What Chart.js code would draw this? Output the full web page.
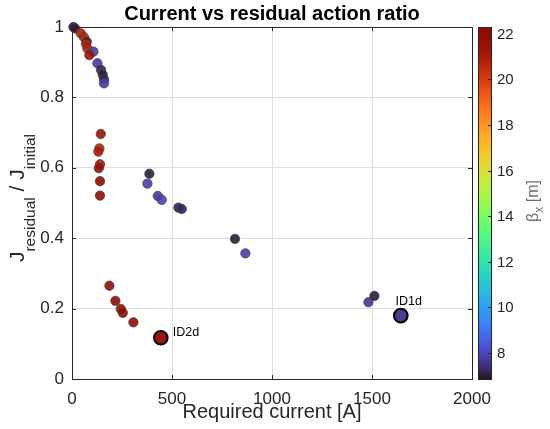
<!DOCTYPE html>
<html>
<head>
<meta charset="utf-8">
<script src="https://cdn.jsdelivr.net/npm/chart.js@4.4.1/dist/chart.umd.min.js"></script>
<style>
    html, body { margin: 0; padding: 0; background: #fff; }
</style>
</head>
<body>
<canvas id="chart" width="550" height="429"></canvas>
<script>
// measured points: required current [A], J_residual / J_initial, beta_x [m]
const current = [7, 15, 44, 60, 74, 70, 77, 107, 87, 127, 145, 154, 160, 160,
    144, 137, 132, 140, 134, 140, 140,
    387, 377, 429, 449, 532, 549, 815, 867, 1482, 1512,
    187, 217, 244, 254, 307];
const ratio = [1.000, 0.996, 0.982, 0.971, 0.958, 0.952, 0.939, 0.930, 0.920, 0.897, 0.878, 0.864, 0.851, 0.840,
    0.696, 0.655, 0.646, 0.610, 0.599, 0.562, 0.521,
    0.583, 0.555, 0.520, 0.509, 0.487, 0.483, 0.398, 0.357, 0.218, 0.236,
    0.265, 0.222, 0.199, 0.188, 0.161];
const beta = [7.0, 7.0, 20.8, 20.6, 7.1, 20.7, 20.9, 7.8, 21.3, 7.7, 7.1, 7.0, 7.2, 7.8,
    21.3, 20.6, 20.9, 21.0, 21.6, 21.9, 21.9,
    7.0, 7.8, 7.7, 7.9, 7.1, 7.2, 7.0, 7.8, 7.6, 7.0,
    21.8, 21.8, 21.7, 21.8, 21.9];

// highlighted cases
const markedCurrent = [444, 1644];
const markedRatio = [0.117, 0.180];
const markedBeta = [22.0, 7.5];
const markedLabels = ['ID2d', 'ID1d'];

const xTicks = [0, 500, 1000, 1500, 2000];
const yTicks = [0, 0.2, 0.4, 0.6, 0.8, 1];
const cbarTicks = [8, 10, 12, 14, 16, 18, 20, 22];
const cbarRange = [6.85, 22.3];

const FONT = '"Liberation Sans", Arial, Helvetica, sans-serif';
const INK = '#262626';

// turbo colormap (polynomial fit)
function turbo(t, alpha = 1) {
    t = Math.min(1, Math.max(0, t));
    const r = 0.13572138 + t * (4.61539260 + t * (-42.66032258 + t * (132.13108234 + t * (-152.94239396 + t * 59.28637943))));
    const g = 0.09140261 + t * (2.19418839 + t * (4.84296658 + t * (-14.18503333 + t * (4.27729857 + t * 2.82956604))));
    const b = 0.10667330 + t * (12.64194608 + t * (-60.58204836 + t * (110.36276771 + t * (-89.90310912 + t * 27.34824973))));
    const c = (v) => Math.round(Math.min(1, Math.max(0, v)) * 255);
    return `rgba(${c(r)},${c(g)},${c(b)},${alpha})`;
}
const colorFor = (v, a) => turbo((v - cbarRange[0]) / (cbarRange[1] - cbarRange[0]), a);

// rotated text made of pieces (for subscripts)
function drawPieces(ctx, pieces, x, y) {
    ctx.save();
    ctx.translate(x, y);
    ctx.rotate(-Math.PI / 2);
    let total = 0;
    pieces.forEach((p) => { ctx.font = `${p.size}px ${FONT}`; p.w = ctx.measureText(p.t).width; total += p.w; });
    let cx = -total / 2;
    ctx.textBaseline = 'alphabetic';
    ctx.textAlign = 'left';
    pieces.forEach((p) => {
        ctx.font = `${p.size}px ${FONT}`;
        ctx.fillStyle = p.color;
        ctx.fillText(p.t, cx, p.dy || 0);
        cx += p.w;
    });
    ctx.restore();
}

const decor = {
    id: 'decor',
    beforeDatasetsDraw(chart) {
        const { ctx, chartArea: a, scales: { x, y } } = chart;
        ctx.save();
        ctx.strokeStyle = INK;
        ctx.lineWidth = 1;
        ctx.beginPath();
        ctx.moveTo(a.left, a.top + 0.5); ctx.lineTo(a.right + 0.5, a.top + 0.5);
        ctx.lineTo(a.right + 0.5, a.bottom);
        const tl = 4;
        xTicks.slice(1, -1).forEach((v) => {
            const px = Math.round(x.getPixelForValue(v)) + 0.5;
            ctx.moveTo(px, a.bottom); ctx.lineTo(px, a.bottom - tl);
            ctx.moveTo(px, a.top); ctx.lineTo(px, a.top + tl);
        });
        yTicks.slice(1, -1).forEach((v) => {
            const py = Math.round(y.getPixelForValue(v)) + 0.5;
            ctx.moveTo(a.left, py); ctx.lineTo(a.left + tl, py);
            ctx.moveTo(a.right, py); ctx.lineTo(a.right - tl, py);
        });
        ctx.stroke();
        ctx.restore();
    },
    afterDatasetsDraw(chart) {
        const { ctx, scales: { x, y } } = chart;
        ctx.save();
        ctx.font = `12.5px ${FONT}`;
        ctx.fillStyle = '#000';
        ctx.textBaseline = 'middle';
        // ID2d to the right, ID1d above
        const px0 = x.getPixelForValue(markedCurrent[0]);
        const py0 = y.getPixelForValue(markedRatio[0]);
        ctx.textAlign = 'left';
        ctx.fillText(markedLabels[0], px0 + 12, py0 - 5);
        const px1 = x.getPixelForValue(markedCurrent[1]);
        const py1 = y.getPixelForValue(markedRatio[1]);
        ctx.textAlign = 'center';
        ctx.fillText(markedLabels[1], px1 + 8, py1 - 14);
        ctx.restore();
    },
    afterDraw(chart) {
        const { ctx, chartArea: a } = chart;
        // title centred over the axes
        ctx.save();
        ctx.font = `bold 20px ${FONT}`;
        ctx.fillStyle = '#000';
        ctx.textAlign = 'center';
        ctx.textBaseline = 'middle';
        ctx.fillText('Current vs residual action ratio', (a.left + a.right) / 2, 14);
        ctx.restore();

        // y-axis title with subscripts
        drawPieces(ctx, [
            { t: 'J', size: 21, color: INK },
            { t: 'residual', size: 15.5, dy: 11, color: INK },
            { t: ' / J', size: 21, color: INK },
            { t: 'initial', size: 15.5, dy: 11, color: INK },
        ], 24, 198);

        // colorbar
        const cx = 478, cw = 13;
        const top = a.top, bot = a.bottom;
        const grad = ctx.createLinearGradient(0, bot, 0, top);
        for (let i = 0; i <= 32; i++) grad.addColorStop(i / 32, turbo(i / 32));
        ctx.save();
        ctx.fillStyle = grad;
        ctx.fillRect(cx, top, cw, bot - top);
        ctx.strokeStyle = INK;
        ctx.lineWidth = 1;
        ctx.strokeRect(cx + 0.5, top + 0.5, cw, bot - top);
        ctx.font = `15px ${FONT}`;
        ctx.fillStyle = INK;
        ctx.textAlign = 'left';
        ctx.textBaseline = 'middle';
        ctx.beginPath();
        cbarTicks.forEach((v) => {
            const py = Math.round(bot - (v - cbarRange[0]) / (cbarRange[1] - cbarRange[0]) * (bot - top)) + 0.5;
            ctx.moveTo(cx + cw, py); ctx.lineTo(cx + cw - 3, py);
            ctx.fillText(String(v), cx + cw + 6, py);
        });
        ctx.stroke();
        ctx.restore();

        drawPieces(ctx, [
            { t: 'β', size: 16, color: '#6e6e6e' },
            { t: 'x', size: 12, dy: 5, color: '#6e6e6e' },
            { t: ' [m]', size: 16, color: '#6e6e6e' },
        ], 538, 201);
    },
};

new Chart(document.getElementById('chart'), {
    type: 'scatter',
    data: {
        datasets: [
            {
                data: current.map((c, i) => ({ x: c, y: ratio[i] })),
                clip: false,
                pointRadius: 4.7,
                pointHoverRadius: 4.7,
                pointBackgroundColor: beta.map((b) => colorFor(b, 0.9)),
                pointBorderColor: 'rgba(60,60,60,0.85)',
                pointBorderWidth: 0.8,
            },
            {
                data: markedCurrent.map((c, i) => ({ x: c, y: markedRatio[i] })),
                clip: false,
                pointRadius: 6.8,
                pointHoverRadius: 6.8,
                pointBackgroundColor: markedBeta.map((b) => colorFor(b, 0.95)),
                pointBorderColor: '#000',
                pointBorderWidth: 2,
            },
        ],
    },
    options: {
        responsive: false,
        animation: false,
        devicePixelRatio: 1,
        layout: { padding: { left: 0, right: 78, top: 27, bottom: 0 } },
        plugins: {
            legend: { display: false },
            tooltip: { enabled: false },
            title: { display: false },
        },
        scales: {
            x: {
                type: 'linear',
                min: 0,
                max: 2000,
                afterBuildTicks: (s) => { s.ticks = xTicks.map((v) => ({ value: v })); },
                afterFit: (s) => { s.height = 50; },
                ticks: {
                    color: INK,
                    padding: 10,
                    maxRotation: 0,
                    font: { family: FONT, size: 17 },
                    callback: (v) => String(v),
                },
                grid: { color: '#e0e0e0', drawTicks: false },
                border: { color: INK, width: 1 },
                title: {
                    display: true,
                    text: 'Required current [A]',
                    color: INK,
                    font: { family: FONT, size: 20 },
                    padding: { top: 0, bottom: 5 },
                },
            },
            y: {
                type: 'linear',
                min: 0,
                max: 1,
                afterBuildTicks: (s) => { s.ticks = yTicks.map((v) => ({ value: v })); },
                afterFit: (s) => { s.width = 72; },
                ticks: {
                    color: INK,
                    padding: 8,
                    font: { family: FONT, size: 17 },
                    callback: (v) => String(v),
                },
                grid: { color: '#e0e0e0', drawTicks: false },
                border: { color: INK, width: 1 },
            },
        },
    },
    plugins: [decor],
});
</script>
</body>
</html>
